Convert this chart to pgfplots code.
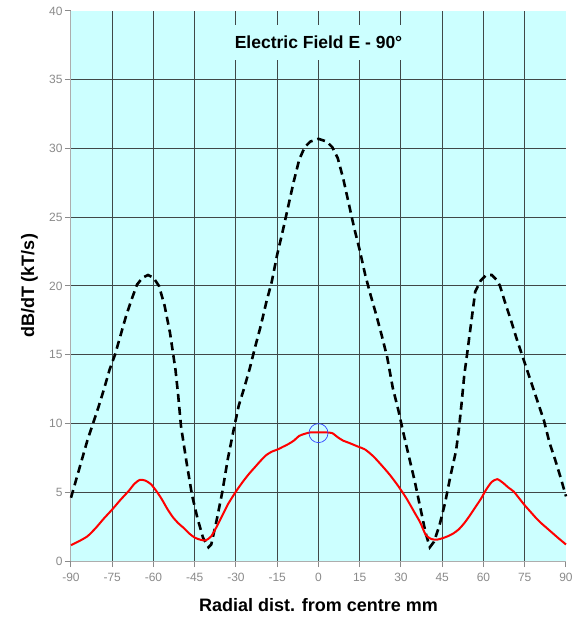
\documentclass[border=0pt]{standalone}
\usepackage{pgfplots}
\pgfplotsset{compat=1.18}
\usepackage{fontspec}
\setmainfont{Liberation Sans}
\definecolor{bg}{HTML}{CCFFFF}
\definecolor{gridc}{HTML}{404848}
\definecolor{tickc}{HTML}{8A8A8A}
\definecolor{circ}{HTML}{3344FF}
\begin{document}
\begin{tikzpicture}
\begin{axis}[
  scale only axis, width=495pt, height=550pt,
  xmin=-90, xmax=90, ymin=0, ymax=40,
  xtick={-90,-75,...,90}, ytick={0,5,...,40},
  minor xtick={-75,-60,...,75}, minor ytick={5,10,...,35},
  xminorgrids=true, yminorgrids=true,
  minor grid style={gridc, line width=1pt},
  minor tick length=0pt,
  axis x line*=bottom, axis y line*=left,
  axis line style={tickc!70, line width=1pt, -},
  tick align=outside, major tick length=6pt,
  major tick style={tickc, line width=1pt},
  axis background/.style={fill=bg},
  /pgf/number format/assume math mode=true,
  tick label style={font=\fontsize{12}{12}\selectfont, text=tickc},
  xticklabel style={yshift=-3pt},
  yticklabel style={xshift=1pt},
  xlabel={\bfseries Radial dist. from centre mm},
  ylabel={\bfseries dB/dT (kT/s)},
  label style={font=\fontsize{18}{18}\selectfont},
  x label style={at={(axis description cs:0.5,0)}, anchor=center, yshift=-44pt},
  y label style={at={(axis description cs:0,0.5)}, anchor=center, rotate=0, yshift=41.5pt},
  clip=false,
]
\addplot[black, line width=2.6pt, dash pattern=on 8pt off 5pt] coordinates {
(-90,4.6) (-88,6.0) (-86,7.4) (-84,8.8) (-82,10.0) (-80,11.2) (-78,12.5) (-76,13.9)
(-74,15.0) (-72,16.4) (-70,17.8) (-68,19.0) (-66,20.1) (-64,20.6) (-62,20.8) (-60,20.6)
(-58,20.0) (-56,18.6) (-54,16.6) (-52,13.9) (-51,12.0) (-50,9.8) (-48,7.2) (-46,4.8)
(-44,3.1) (-42,1.7) (-40,1.0) (-39,1.2) (-37,3.0) (-35,5.0) (-33,7.4) (-31,9.4)
(-29,11.3) (-27,12.6) (-25,14.0) (-23,15.6) (-21,17.1) (-19,18.8) (-17,20.3) (-15,22.3)
(-13,24.0) (-11,25.8) (-9,27.6) (-7,29.2) (-5,30.1) (-3,30.5) (0,30.7)
(3,30.5) (5,30.1) (7,29.3) (9,27.8) (11,26.0) (13,24.2) (15,22.6) (17,20.8)
(19,19.3) (21,17.9) (23,16.4) (25,14.8) (27,12.6) (29,11.0) (31,9.2) (33,7.5)
(35,5.8) (37,3.9) (39,2.0) (40.5,1.0) (42,1.4) (44,2.6) (46,4.2) (48,6.2)
(50,8.0) (51,9.5) (52,11.4) (53,13.5) (54,15.0) (55.5,17.3) (57,19.6) (59,20.4)
(61,20.8) (63,20.8) (65,20.4) (66,20.0) (68,18.7) (70,17.5) (72,16.2) (74,15.0)
(76,13.8) (78,12.6) (80,11.4) (82,10.2) (84,8.6) (86,7.4) (88,6.1) (90,4.7)
};
\addplot[red, line width=2pt, smooth, tension=0.4] coordinates {
(-90,1.15) (-87,1.45) (-84,1.8) (-81,2.4) (-78,3.1) (-75,3.75) (-72,4.45) (-69,5.1)
(-67,5.6) (-65,5.9) (-63,5.85) (-61,5.6) (-59,5.1) (-57,4.5) (-55,3.8) (-53,3.2)
(-51,2.75) (-49,2.4) (-47,2.0) (-45,1.7) (-43,1.55) (-41,1.5) (-39,1.8) (-37,2.5)
(-35,3.3) (-33,4.1) (-31,4.75) (-29,5.35) (-27,5.9) (-25,6.4) (-23,6.85) (-21,7.3)
(-19,7.7) (-17,7.95) (-15,8.1) (-13,8.3) (-11,8.5) (-9,8.75) (-7,9.1) (-5,9.25)
(-3,9.35) (0,9.35) (3,9.35) (5,9.3) (7,9.0) (9,8.75) (11,8.6) (14,8.35)
(17,8.1) (20,7.6) (23,6.95) (26,6.25) (29,5.45) (32,4.55) (35,3.5) (37,2.8)
(39,1.9) (41,1.6) (43,1.55) (45,1.65) (47,1.8) (49,2.0) (51,2.3) (53,2.75)
(55,3.3) (57,3.9) (59,4.5) (61,5.2) (63,5.75) (65,5.95) (67,5.7) (69,5.35)
(71,5.05) (73,4.55) (75,4.05) (77,3.6) (79,3.15) (81,2.75) (83,2.4) (85,2.05)
(87,1.7) (90,1.2)
};
\addplot[only marks, mark=o, mark size=9.5pt, mark options={draw=circ, line width=0.7pt}] coordinates {(0,9.3)};
\node[fill=bg, inner xsep=6pt, inner ysep=11pt, font=\fontsize{17.5}{17.5}\selectfont\bfseries] at (axis cs:0,37.7) {Electric Field E - 90°};
\end{axis}
\pgfresetboundingbox
\path (-71pt,-56pt) rectangle (514pt,561pt);
\end{tikzpicture}
\end{document}
